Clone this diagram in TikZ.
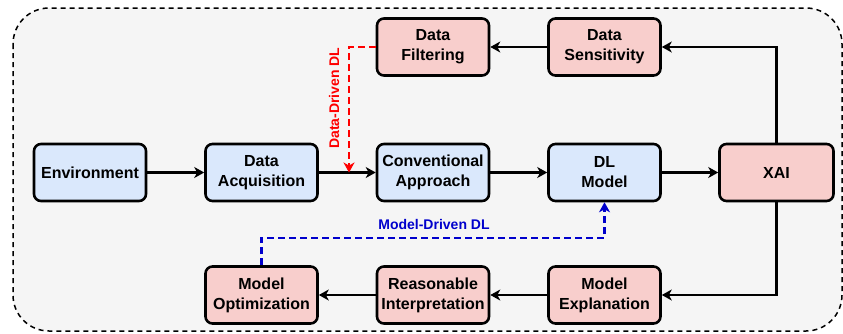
\documentclass[tikz,border=0pt]{standalone}
\usepackage{fontspec}
\setmainfont{Liberation Sans}
\usetikzlibrary{arrows.meta}
\definecolor{bgc}{HTML}{F5F5F5}
\definecolor{bluef}{HTML}{DAE8FC}
\definecolor{pinkf}{HTML}{F8CECC}
\definecolor{redl}{HTML}{FF0000}
\definecolor{bluel}{HTML}{0000CC}
\tikzset{
  box/.style={draw=black, line width=2.6pt, rounded corners=7pt, minimum width=112pt, minimum height=57pt,
    align=center, inner sep=0pt, font=\fontsize{16}{20}\selectfont\bfseries},
  bluebox/.style={box, fill=bluef},
  pinkbox/.style={box, fill=pinkf},
  arr/.style={draw=black, line width=2.4pt, -{Stealth[length=10pt,width=11pt,inset=3pt]}},
  redarr/.style={draw=redl, line width=2.4pt, dash pattern=on 7pt off 4pt, -{Stealth[length=10pt,width=11pt,inset=3pt]}},
  bluearr/.style={draw=bluel, line width=2.4pt, dash pattern=on 7pt off 4pt, -{Stealth[length=10pt,width=11pt,inset=3pt]}},
  lbl/.style={font=\fontsize{14}{16}\selectfont\bfseries, inner sep=0pt}
}
\begin{document}
\begin{tikzpicture}[x=1pt,y=-1pt]
\useasboundingbox (0,0) rectangle (843,333);
\draw[fill=bgc, draw=black, line width=1.5pt, dash pattern=on 5pt off 4pt, rounded corners=36pt] (13,8) rectangle (842,331);
\node[bluebox] (env) at (90,172.5) {Environment};
\node[bluebox] (acq) at (261.5,172.5) {Data\\Acquisition};
\node[bluebox] (conv) at (433,172.5) {Conventional\\Approach};
\node[bluebox] (dl) at (604.5,172.5) {DL\\Model};
\node[pinkbox, minimum width=114pt] (xai) at (776.5,172.5) {XAI};
\node[pinkbox] (filt) at (433,47) {Data\\Filtering};
\node[pinkbox] (sens) at (604.5,47) {Data\\Sensitivity};
\node[pinkbox] (opt) at (261.5,295) {Model\\Optimization};
\node[pinkbox] (reas) at (433,295) {Reasonable\\Interpretation};
\node[pinkbox] (expl) at (604.5,295) {Model\\Explanation};
\coordinate (redtip) at (349,172.5);
\draw[arr] (env) -- (acq);
\draw[arr] (acq) -- (conv);
\draw[arr] (conv) -- (dl);
\draw[arr] (dl) -- (xai);
\draw[arr] (xai.north) |- (sens.east);
\draw[arr] (sens) -- (filt);
\draw[arr] (xai.south) |- (expl.east);
\draw[arr] (expl) -- (reas);
\draw[arr] (reas) -- (opt);
\draw[redarr] (filt.west) -| (redtip);
\draw[bluearr] (opt.north) |- (433,238) -| (dl.south);
\node[lbl, text=redl, rotate=90] (dd) at (334,98) {Data-Driven DL};
\node[lbl, text=bluel] (md) at (434,224) {Model-Driven DL};
\end{tikzpicture}
\end{document}
